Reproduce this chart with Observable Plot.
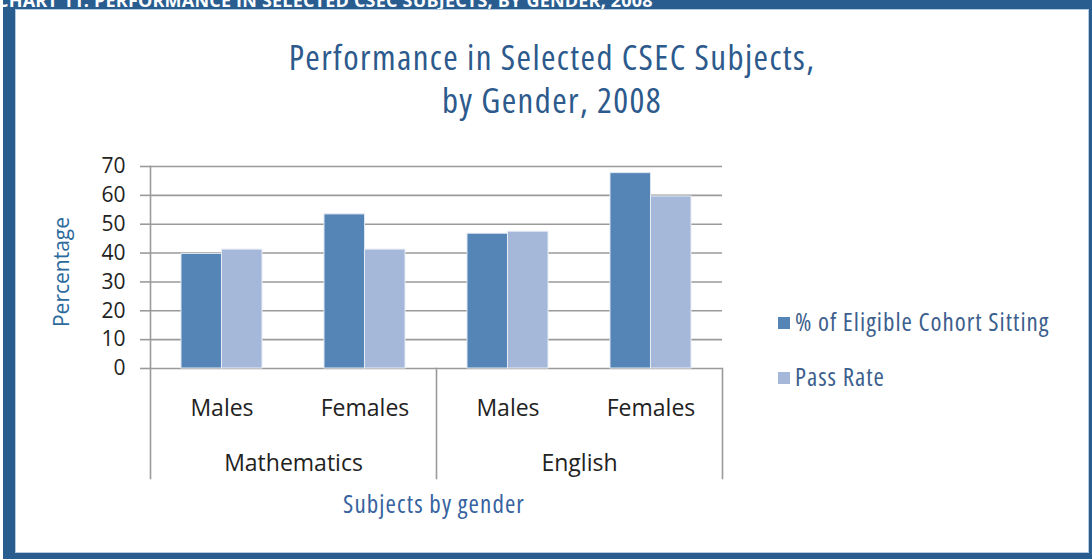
<!DOCTYPE html>
<html><head><meta charset="utf-8">
<script src="https://cdn.jsdelivr.net/npm/d3@7"></script>
<script src="https://cdn.jsdelivr.net/npm/@observablehq/plot@0.6"></script>
<style>
body{margin:0;width:1092px;height:559px;overflow:hidden;background:#fff;position:relative;font-family:"Open Sans",sans-serif}
#outer{position:absolute;left:3px;top:0;width:1089px;height:559px;background:#2a5d8f;overflow:hidden}
#strip{position:absolute;left:-6px;top:-12px;color:#fff;font:bold 18px "Open Sans",sans-serif;white-space:nowrap;letter-spacing:0.2px}
#inner{position:absolute;left:12px;top:9px;width:1074px;height:544px;background:#fff;border:1px solid #b7c9df;box-sizing:border-box}
.cond{font-stretch:condensed}
#title{position:absolute;left:15px;width:1074px;top:35px;text-align:center;color:#2d5a8c;font-size:35px;letter-spacing:1.4px;line-height:43px}
#ylab{position:absolute;left:61px;top:272px;transform:translate(-50%,-50%) rotate(-90deg);font-size:21px;color:#2b6a9c;white-space:nowrap}
#xlab{position:absolute;left:434px;top:503px;transform:translate(-50%,-50%);font-size:25px;letter-spacing:1.1px;color:#3763a0;white-space:nowrap}
#legend{position:absolute;left:778px;top:308px;color:#3d5f8e;font-size:25px;letter-spacing:1px}
.item{position:absolute;left:0;white-space:nowrap;height:26px;line-height:26px}
.sw{display:inline-block;width:12px;height:12px;margin-right:5px;vertical-align:2px}
#chart{position:absolute;left:0;top:0}
</style></head>
<body>
<div id="outer"><div id="strip"></div><div id="inner"></div></div>
<div id="title" class="cond"></div>
<div id="ylab"></div>
<div id="xlab" class="cond"></div>
<div id="legend" class="cond"></div>
<div id="chart"></div>
<script>
const chartHeading = "CHART 11: PERFORMANCE IN SELECTED CSEC SUBJECTS, BY GENDER, 2008";
const titleLines = ["Performance in Selected CSEC Subjects,", "by Gender, 2008"];
const yLabel = "Percentage";
const xLabel = "Subjects by gender";
const subjects = ["Mathematics", "English"];
const genders = ["Males", "Females"];
const sitting = [39.7, 53.4, 46.7, 67.7];
const passRate = [41.2, 41.2, 47.4, 59.6];
const yTicks = [0, 10, 20, 30, 40, 50, 60, 70];
const seriesNames = ["% of Eligible Cohort Sitting", "Pass Rate"];
const colors = ["#5585b6", "#a6b8d9"];

document.getElementById("strip").textContent = chartHeading;
document.getElementById("title").innerHTML = titleLines.join("<br>");
document.getElementById("ylab").textContent = yLabel;
document.getElementById("xlab").textContent = xLabel;
const leg = document.getElementById("legend");
seriesNames.forEach((n, i) => {
  const d = document.createElement("div");
  d.className = "item";
  d.style.top = (i * 55) + "px";
  d.innerHTML = `<span class="sw" style="background:${colors[i]}"></span>${n}`;
  leg.appendChild(d);
});

const rows = [];
subjects.forEach((s, i) => genders.forEach((g, j) => {
  const k = i * genders.length + j;
  rows.push({subject: s, gender: g, sitting: sitting[k], pass: passRate[k]});
}));

const W = 1092, H = 559, mL = 150, mR = 370, mT = 166, mB = 191;
const pIn = 0.434, pOut = 0.217;
const facetW = (W - mL - mR) / subjects.length;
const step = facetW / (genders.length - pIn + 2 * pOut);
const half = step * (1 - pIn) / 2;
const plotH = H - mT - mB;
const gridC = "#9a9a9a";

const chart = Plot.plot({
  width: W, height: H,
  marginLeft: mL, marginRight: mR, marginTop: mT, marginBottom: mB,
  style: {background: "transparent", overflow: "visible", fontStretch: "normal"},
  fx: {domain: subjects, padding: 0},
  x: {domain: genders, paddingInner: pIn, paddingOuter: pOut},
  y: {domain: [0, 70]},
  marks: [
    Plot.gridY(yTicks, {stroke: gridC, strokeOpacity: 1, strokeWidth: 1.6}),
    Plot.frame({anchor: "left", facetAnchor: "left", stroke: gridC, strokeWidth: 1.6}),
    Plot.frame({anchor: "left", insetTop: plotH, insetBottom: -110, stroke: gridC, strokeWidth: 1.6}),
    Plot.frame({anchor: "right", facetAnchor: "right", insetTop: plotH, insetBottom: -110, stroke: gridC, strokeWidth: 1.6}),
    Plot.barY(rows, {fx: "subject", x: "gender", y: "sitting", fill: colors[0], insetRight: half, stroke: "#dfe7f1", strokeWidth: 1}),
    Plot.barY(rows, {fx: "subject", x: "gender", y: "pass", fill: colors[1], insetLeft: half, stroke: "#e6ecf5", strokeWidth: 1}),
    Plot.axisY(yTicks, {tickSize: 10, tickPadding: 15, stroke: gridC, strokeWidth: 1.6, fill: "#222", fontSize: 21, fontFamily: "Open Sans", label: null}),
    Plot.axisX({tickSize: 0, tickPadding: 31, fill: "#222", fontSize: 23, fontFamily: "Open Sans", label: null}),
    Plot.axisFx({anchor: "bottom", tickSize: 0, tickPadding: 86, fill: "#222", fontSize: 23, fontFamily: "Open Sans", label: null})
  ]
});
document.getElementById("chart").appendChild(chart);
</script>
</body></html>
